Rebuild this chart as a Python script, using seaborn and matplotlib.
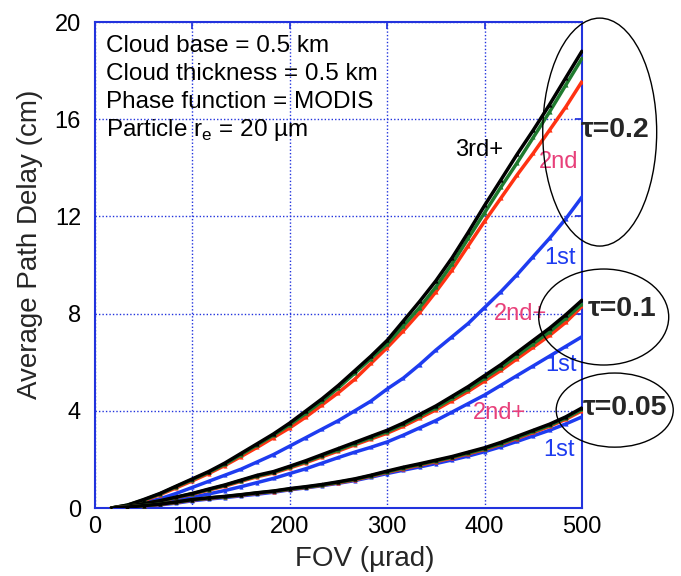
import matplotlib
matplotlib.use("Agg")
import matplotlib.pyplot as plt
from matplotlib.patches import Ellipse
import seaborn as sns
import pandas as pd

sns.set_theme(style="white")
plt.rcParams['font.family'] = ['Liberation Sans', 'DejaVu Sans']
plt.rcParams['mathtext.fontset'] = 'custom'
plt.rcParams['mathtext.rm'] = 'Liberation Sans'

fov = [16.7, 33.3, 50, 66.7, 83.3, 100, 116.7, 133.3, 150, 166.7, 183.3, 200,
       216.7, 233.3, 250, 266.7, 283.3, 300, 316.7, 333.3, 350, 366.7, 383.3, 400,
       416.7, 433.3, 450, 466.7, 483.3, 500]

# tau = 0.2
t02_total = [0.0, 0.12, 0.35, 0.6, 0.9, 1.2, 1.5, 1.85, 2.25, 2.65, 3.05, 3.5,
             4.0, 4.5, 5.05, 5.65, 6.25, 6.9, 7.7, 8.5, 9.35, 10.3, 11.35, 12.45,
             13.5, 14.55, 15.55, 16.6, 17.7, 18.8]
t02_green = [0.0, 0.12, 0.33, 0.58, 0.88, 1.17, 1.47, 1.8, 2.2, 2.6, 3.0, 3.43,
             3.9, 4.4, 4.95, 5.55, 6.15, 6.75, 7.5, 8.25, 9.1, 10.05, 11.1, 12.15,
             13.2, 14.2, 15.25, 16.3, 17.4, 18.5]
t02_2nd = [0.0, 0.1, 0.3, 0.55, 0.83, 1.12, 1.42, 1.75, 2.12, 2.5, 2.9, 3.3,
           3.75, 4.25, 4.75, 5.3, 5.95, 6.6, 7.3, 8.05, 8.9, 9.8, 10.8, 11.8,
           12.75, 13.7, 14.6, 15.55, 16.5, 17.55]
t02_1st = [0.0, 0.08, 0.22, 0.38, 0.6, 0.85, 1.1, 1.35, 1.6, 1.9, 2.2, 2.55,
           2.9, 3.25, 3.6, 4.0, 4.4, 4.9, 5.35, 5.9, 6.5, 7.05, 7.6, 8.25,
           8.9, 9.6, 10.35, 11.1, 11.9, 12.8]

# tau = 0.1
t01_total = [0.0, 0.07, 0.18, 0.3, 0.45, 0.6, 0.78, 0.95, 1.15, 1.35, 1.5, 1.72,
             1.95, 2.2, 2.45, 2.7, 2.95, 3.2, 3.5, 3.85, 4.2, 4.6, 5.0, 5.45,
             5.9, 6.4, 6.9, 7.4, 7.95, 8.55]
t01_green = [0.0, 0.07, 0.17, 0.29, 0.44, 0.59, 0.76, 0.93, 1.13, 1.32, 1.47, 1.69,
             1.91, 2.16, 2.4, 2.65, 2.9, 3.14, 3.44, 3.78, 4.12, 4.51, 4.9, 5.34,
             5.78, 6.27, 6.76, 7.25, 7.8, 8.4]
t01_2nd = [0.0, 0.06, 0.16, 0.28, 0.43, 0.57, 0.74, 0.9, 1.1, 1.29, 1.44, 1.65,
           1.87, 2.11, 2.35, 2.6, 2.84, 3.08, 3.37, 3.7, 4.04, 4.42, 4.8, 5.23,
           5.66, 6.14, 6.62, 7.1, 7.64, 8.3]
t01_1st = [0.0, 0.05, 0.13, 0.22, 0.33, 0.45, 0.58, 0.72, 0.88, 1.05, 1.22, 1.42,
           1.62, 1.85, 2.08, 2.3, 2.5, 2.72, 3.0, 3.3, 3.6, 3.95, 4.3, 4.65,
           5.05, 5.45, 5.85, 6.25, 6.65, 7.05]

# tau = 0.05
t005_total = [0.0, 0.04, 0.1, 0.16, 0.25, 0.35, 0.42, 0.48, 0.55, 0.63, 0.7, 0.8,
              0.88, 0.97, 1.08, 1.2, 1.35, 1.52, 1.68, 1.82, 1.97, 2.12, 2.3, 2.48,
              2.7, 2.95, 3.2, 3.45, 3.75, 4.12]
t005_green = [0.0, 0.04, 0.1, 0.16, 0.24, 0.34, 0.41, 0.47, 0.54, 0.62, 0.69, 0.78,
              0.86, 0.95, 1.06, 1.18, 1.33, 1.49, 1.65, 1.79, 1.94, 2.09, 2.26, 2.44,
              2.65, 2.9, 3.15, 3.4, 3.7, 4.06]
t005_2nd = [0.0, 0.04, 0.09, 0.15, 0.23, 0.33, 0.4, 0.46, 0.53, 0.61, 0.68, 0.77,
            0.85, 0.94, 1.04, 1.16, 1.31, 1.47, 1.62, 1.76, 1.91, 2.06, 2.23, 2.41,
            2.62, 2.86, 3.11, 3.36, 3.65, 4.0]
t005_1st = [0.0, 0.03, 0.08, 0.13, 0.2, 0.3, 0.37, 0.43, 0.5, 0.57, 0.65, 0.75,
            0.83, 0.92, 1.02, 1.13, 1.27, 1.42, 1.56, 1.69, 1.83, 1.98, 2.14, 2.32,
            2.52, 2.74, 2.97, 3.2, 3.46, 3.75]

BLUE = "#1e3cf0"
RED = "#ff3212"
GREEN = "#1e7a2e"
BLACK = "#000000"
PINK = "#e8407a"
AXBLUE = "#2233dd"

fig = plt.figure(figsize=(6.81, 5.76), dpi=100)
ax = fig.add_axes([0.1395, 0.118, 0.7151, 0.8438])

series = [
    (t02_1st, BLUE), (t02_2nd, RED), (t02_green, GREEN), (t02_total, BLACK),
    (t01_1st, BLUE), (t01_2nd, RED), (t01_green, GREEN), (t01_total, BLACK),
    (t005_1st, BLUE), (t005_2nd, RED), (t005_green, GREEN), (t005_total, BLACK),
]
for vals, col in series:
    df = pd.DataFrame({"fov": fov, "delay": vals})
    sns.lineplot(data=df, x="fov", y="delay", ax=ax, color=col, linewidth=2.5,
                 marker="^", markersize=3, markeredgewidth=0, markerfacecolor=col,
                 zorder=3)

ax.set_xlim(0, 500)
ax.set_ylim(0, 20)
ax.set_xticks([0, 100, 200, 300, 400, 500])
ax.set_yticks([0, 4, 8, 12, 16, 20])
ax.grid(True, color=AXBLUE, linestyle=(0, (1, 1.5)), linewidth=1.0)
for s in ax.spines.values():
    s.set_color(AXBLUE)
    s.set_linewidth(1.5)
ax.tick_params(axis="both", direction="in", length=5, color=AXBLUE, labelsize=17,
               labelcolor="black", top=True, right=True)
ax.tick_params(axis="y", pad=10)
ax.tick_params(axis="x", pad=6)
ax.set_xlabel("FOV (µrad)", fontsize=20)
ax.set_ylabel("Average Path Delay (cm)", fontsize=20)
ax.xaxis.set_label_coords(0.554, -0.078)
ax.yaxis.set_label_coords(-0.106, 0.543)

info = ["Cloud base = 0.5 km", "Cloud thickness = 0.5 km",
        "Phase function = MODIS", "Particle r$_\\mathregular{e}$ = 20 µm"]
for i, line in enumerate(info):
    ax.text(0.022, 0.951 - i * 0.0576, line, transform=ax.transAxes, fontsize=17.5,
            va="center", ha="left", color="black", zorder=5)

# curve labels
ax.text(394.5, 14.73, "3rd+", fontsize=17, color="black", ha="center", va="center")
ax.text(475.6, 14.25, "2nd", fontsize=17, color=PINK, ha="center", va="center")
ax.text(477, 10.3, "1st", fontsize=17, color=BLUE, ha="center", va="center")
ax.text(437, 8.0, "2nd+", fontsize=17, color=PINK, ha="center", va="center")
ax.text(478, 5.88, "1st", fontsize=17, color=BLUE, ha="center", va="center")
ax.text(415, 3.9, "2nd+", fontsize=17, color=PINK, ha="center", va="center")
ax.text(476, 2.39, "1st", fontsize=17, color=BLUE, ha="center", va="center")

# tau labels
ax.text(499, 15.55, "τ=0.2", fontsize=20.5, fontweight="bold", ha="left", va="center",
        clip_on=False)
ax.text(506, 8.19, "τ=0.1", fontsize=20.5, fontweight="bold", ha="left", va="center",
        clip_on=False)
ax.text(501, 4.13, "τ=0.05", fontsize=20.5, fontweight="bold", ha="left", va="center",
        clip_on=False)

for (cx, cy, w, h) in [(518.2, 15.47, 117, 9.38), (522.3, 7.86, 133.5, 3.95),
                       (533.6, 4.03, 120.2, 3.05)]:
    e = Ellipse((cx, cy), w, h, fill=False, edgecolor="black", linewidth=1.0,
                clip_on=False, zorder=4)
    ax.add_patch(e)

fig.savefig("out.png", dpi=100)
